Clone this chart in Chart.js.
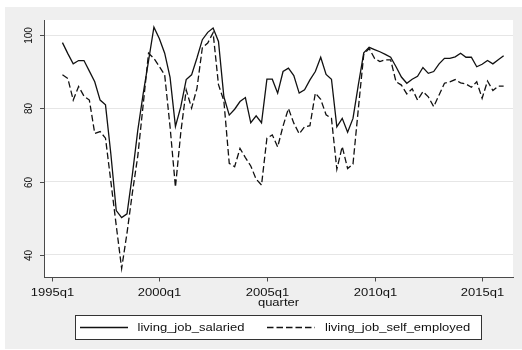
<!DOCTYPE html>
<html>
<head>
<meta charset="utf-8">
<script src="https://cdn.jsdelivr.net/npm/chart.js@4.4.1/dist/chart.umd.min.js"></script>
<style>
  html, body { margin: 0; padding: 0; background: #ffffff; }
  canvas { display: block; }
</style>
</head>
<body>
<canvas id="c" width="522" height="350"></canvas>
<script>
// Quarterly series, 1995q3 .. 2016q1
const quarters = [
  '1995q3','1995q4',
  '1996q1','1996q2','1996q3','1996q4',
  '1997q1','1997q2','1997q3','1997q4',
  '1998q1','1998q2','1998q3','1998q4',
  '1999q1','1999q2','1999q3','1999q4',
  '2000q1','2000q2','2000q3','2000q4',
  '2001q1','2001q2','2001q3','2001q4',
  '2002q1','2002q2','2002q3','2002q4',
  '2003q1','2003q2','2003q3','2003q4',
  '2004q1','2004q2','2004q3','2004q4',
  '2005q1','2005q2','2005q3','2005q4',
  '2006q1','2006q2','2006q3','2006q4',
  '2007q1','2007q2','2007q3','2007q4',
  '2008q1','2008q2','2008q3','2008q4',
  '2009q1','2009q2','2009q3','2009q4',
  '2010q1','2010q2','2010q3','2010q4',
  '2011q1','2011q2','2011q3','2011q4',
  '2012q1','2012q2','2012q3','2012q4',
  '2013q1','2013q2','2013q3','2013q4',
  '2014q1','2014q2','2014q3','2014q4',
  '2015q1','2015q2','2015q3','2015q4',
  '2016q1'
];

const salaried = [
  98.0, 95.0,
  92.2, 93.1, 93.1, 90.2,
  87.3, 82.3, 81.0, 67.5,
  52.1, 50.2, 51.2, 62.0,
  74.0, 84.0, 93.0, 102.2,
  99.1, 95.1, 88.5, 75.1,
  80.5, 87.9, 89.2, 93.8,
  98.8, 100.8, 102.0, 98.3,
  83.2, 78.2, 79.8, 81.9,
  83.0, 76.1, 78.0, 76.1,
  88.0, 88.0, 84.2, 90.1,
  91.0, 89.0, 84.2, 85.1,
  87.8, 90.1, 94.0, 89.3,
  88.0, 75.0, 77.3, 73.5,
  77.3, 86.5, 95.2, 96.7,
  96.1, 95.5, 94.8, 94.0,
  91.4, 88.6, 86.9, 88.0,
  88.8, 91.2, 89.6, 90.1,
  92.2, 93.7, 93.7, 94.1,
  95.1, 94.0, 94.0, 91.4,
  92.1, 93.1, 92.2, 93.3,
  94.4
];

const selfEmployed = [
  89.2, 88.2,
  82.3, 86.0, 83.4, 82.3,
  73.2, 73.7, 71.9, 60.0,
  48.0, 36.3, 46.0, 57.0,
  67.0, 81.0, 95.1, 93.7,
  91.5, 89.2, 75.0, 58.5,
  73.5, 85.1, 80.1, 85.5,
  96.6, 97.9, 100.7, 86.5,
  82.1, 65.0, 64.1, 69.1,
  66.6, 64.3, 60.7, 59.1,
  71.9, 72.8, 69.5, 75.2,
  80.0, 76.0, 73.1, 75.0,
  75.3, 84.2, 82.5, 78.3,
  77.3, 63.4, 69.6, 63.6,
  64.8, 80.0, 94.8, 96.4,
  93.7, 92.8, 93.3, 93.3,
  87.3, 86.4, 84.0, 85.4,
  82.3, 84.6, 83.2, 80.5,
  83.7, 86.9, 87.3, 87.9,
  87.0, 86.7, 85.8, 87.3,
  82.8, 87.5, 84.9, 86.1,
  86.1
];

const xTickLabels = ['1995q1', '2000q1', '2005q1', '2010q1', '2015q1'];
const yTickValues = [40, 60, 80, 100];
const seriesNames = ['living_job_salaried', 'living_job_self_employed'];
const xTitle = 'quarter';

// quarter label -> number of quarters since 1995q1
function quarterIndex(label) {
  const year = parseInt(label.slice(0, 4), 10);
  const q = parseInt(label.slice(5), 10);
  return (year - 1995) * 4 + (q - 1);
}

const toPoints = (values) => values.map((v, i) => ({ x: quarterIndex(quarters[i]), y: v }));

const INK = '#111111';
const AXIS = '#4a4a4a';
const FONT = '"Liberation Sans", Arial, Helvetica, sans-serif';
const STRETCH = 1.13;
const DASH = [6.5, 3];

// text helper: draws slightly widened glyphs, optionally rotated
function drawText(ctx, text, x, y, size, align, baseline, rotate) {
  ctx.save();
  ctx.translate(x, y);
  ctx.scale(STRETCH, 1);
  if (rotate) ctx.rotate(rotate);
  ctx.font = size + 'px ' + FONT;
  ctx.fillStyle = INK;
  ctx.textAlign = align;
  ctx.textBaseline = baseline;
  ctx.fillText(text, 0, 0);
  ctx.restore();
}

const stataFrame = {
  id: 'stataFrame',
  beforeDraw(chart) {
    const { ctx, chartArea: a } = chart;
    ctx.save();
    ctx.fillStyle = '#ffffff';
    ctx.fillRect(0, 0, chart.width, chart.height);
    ctx.fillStyle = '#efefef';
    ctx.fillRect(5, 7, chart.width - 5, chart.height - 8);
    ctx.fillStyle = '#ffffff';
    ctx.fillRect(a.left, a.top, a.right - a.left, a.bottom - a.top);
    ctx.restore();
  },
  afterDraw(chart) {
    const { ctx, chartArea: a, scales } = chart;
    const xs = scales.x, ys = scales.y;
    ctx.save();
    ctx.strokeStyle = AXIS;
    ctx.lineWidth = 1;

    // y ticks and rotated labels
    yTickValues.forEach((v) => {
      const py = Math.round(ys.getPixelForValue(v)) + 0.5;
      ctx.beginPath();
      ctx.moveTo(a.left - 4, py);
      ctx.lineTo(a.left, py);
      ctx.stroke();
      drawText(ctx, String(v), 34.5, py, 10, 'center', 'bottom', -Math.PI / 2);
    });

    // x ticks and labels
    xTickLabels.forEach((lab) => {
      const px = Math.round(xs.getPixelForValue(quarterIndex(lab))) + 0.5;
      ctx.beginPath();
      ctx.moveTo(px, a.bottom);
      ctx.lineTo(px, a.bottom + 4.5);
      ctx.stroke();
      drawText(ctx, lab, px, 295.5, 11.5, 'center', 'alphabetic');
    });

    // axis title
    drawText(ctx, xTitle, (a.left + a.right) / 2, 305.5, 11.5, 'center', 'alphabetic');

    // legend
    const lx = 75.5, ly = 315.5, lw = 406, lh = 24;
    ctx.fillStyle = '#ffffff';
    ctx.fillRect(lx, ly, lw, lh);
    ctx.strokeStyle = '#333333';
    ctx.strokeRect(lx, ly, lw, lh);
    const midY = 327.5;
    const keys = [
      { x0: 80, x1: 128, tx: 137.5, dash: [] },
      { x0: 267, x1: 315, tx: 325, dash: DASH }
    ];
    keys.forEach((k, i) => {
      ctx.save();
      ctx.strokeStyle = INK;
      ctx.lineWidth = 1.3;
      ctx.setLineDash(k.dash);
      ctx.beginPath();
      ctx.moveTo(k.x0, midY);
      ctx.lineTo(k.x1, midY);
      ctx.stroke();
      ctx.restore();
      drawText(ctx, seriesNames[i], k.tx, 331, 11.5, 'left', 'alphabetic');
    });
    ctx.restore();
  }
};

new Chart(document.getElementById('c'), {
  type: 'line',
  data: {
    datasets: [
      {
        label: seriesNames[0],
        data: toPoints(salaried),
        borderColor: INK,
        borderWidth: 1.3,
        pointRadius: 0,
        tension: 0,
        fill: false
      },
      {
        label: seriesNames[1],
        data: toPoints(selfEmployed),
        borderColor: INK,
        borderWidth: 1.3,
        borderDash: DASH,
        pointRadius: 0,
        tension: 0,
        fill: false
      }
    ]
  },
  options: {
    responsive: false,
    animation: false,
    devicePixelRatio: 1,
    layout: { padding: { left: 0, top: 20, right: 9, bottom: 73 } },
    plugins: { legend: { display: false }, tooltip: { enabled: false } },
    scales: {
      x: {
        type: 'linear',
        min: -1.43,
        max: 85.74,
        grid: { display: false },
        border: { display: true, color: AXIS, width: 1 },
        ticks: { display: false },
        afterBuildTicks: (s) => { s.ticks = xTickLabels.map((l) => ({ value: quarterIndex(l) })); },
        afterFit: (s) => { s.height = 0; }
      },
      y: {
        type: 'linear',
        min: 33.96,
        max: 104.18,
        grid: { color: '#e6e6e6', lineWidth: 1, drawTicks: false },
        border: { display: true, color: AXIS, width: 1 },
        ticks: { display: false },
        afterBuildTicks: (s) => { s.ticks = yTickValues.map((v) => ({ value: v })); },
        afterFit: (s) => { s.width = 44; }
      }
    }
  },
  plugins: [stataFrame]
});
</script>
</body>
</html>
